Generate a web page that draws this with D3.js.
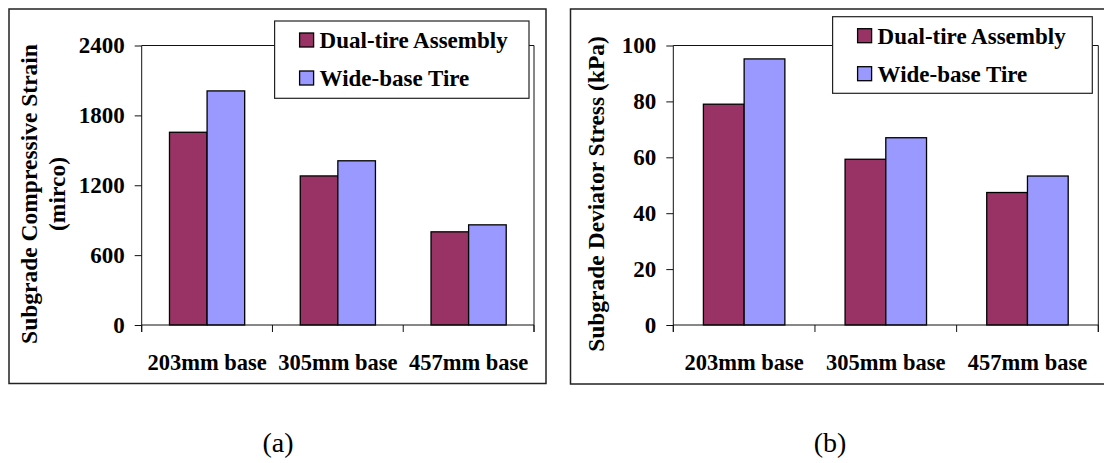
<!DOCTYPE html>
<html>
<head>
<meta charset="utf-8">
<title>Subgrade response</title>
<style>
body { margin: 0; background: #fff; }
svg { display: block; }
text { font-family: 'Liberation Serif', 'DejaVu Serif', serif; fill: #000; }
.bold { font-weight: bold; }
.panel { fill: none; stroke: #222; stroke-width: 1.5px; }
.frame { fill: none; stroke: #111; stroke-width: 1px; }
.bar { stroke: #000; stroke-width: 1.3px; }
.legend-box { fill: #fff; stroke: #222; stroke-width: 1.2px; }
.axis path, .axis line { stroke: #111; stroke-width: 1px; }
</style>
</head>
<body>
<script src="https://cdn.jsdelivr.net/npm/d3@7/dist/d3.min.js"></script>
<svg id="chart" width="1104" height="463"></svg>
<script>
const categories = ['203mm base', '305mm base', '457mm base'];
const seriesNames = ['Dual-tire Assembly', 'Wide-base Tire'];
const seriesColors = ['#993366', '#9999FF'];

// (a) subgrade compressive strain
const strainDual = [1655, 1280, 800];
const strainWide = [2010, 1410, 860];
const strainTicks = [0, 600, 1200, 1800, 2400];

// (b) subgrade deviator stress, kPa
const stressDual = [79, 59.3, 47.4];
const stressWide = [95.2, 67, 53.3];
const stressTicks = [0, 20, 40, 60, 80, 100];

const serif = "'Liberation Serif', 'DejaVu Serif', serif";
const svg = d3.select('#chart');

function drawPanel(opt){
    svg.append('rect').attr('class', 'panel')
        .attr('x', opt.box[0]).attr('y', opt.box[1])
        .attr('width', opt.box[2]).attr('height', opt.box[3]);

    const y = d3.scaleLinear().domain([0, opt.max]).range([325, 45.5]);
    const x0 = d3.scaleBand().domain(categories)
        .range([opt.left, opt.right])
        .paddingInner(0.425).paddingOuter(0.2125);
    const x1 = d3.scaleBand().domain(seriesNames).range([0, x0.bandwidth()]);

    // plot frame (top and right)
    svg.append('path').attr('class', 'frame')
        .attr('d', `M${opt.left},${y(opt.max)}H${opt.right}V${y(0) + 7}`);

    const rows = categories.map((c, i) => ({cat: c, values: [opt.dual[i], opt.wide[i]]}));

    const groups = svg.append('g').selectAll('g').data(rows).join('g')
        .attr('transform', d => `translate(${x0(d.cat)},0)`);

    groups.selectAll('rect')
        .data(d => d.values.map((v, k) => ({name: seriesNames[k], value: v, color: seriesColors[k]})))
        .join('rect')
        .attr('class', 'bar')
        .attr('x', d => x1(d.name))
        .attr('width', x1.bandwidth())
        .attr('y', d => y(d.value))
        .attr('height', d => y(0) - y(d.value))
        .attr('fill', d => d.color);

    // y axis
    const yAxis = svg.append('g').attr('class', 'axis')
        .attr('transform', `translate(${opt.left},0)`)
        .call(d3.axisLeft(y).tickValues(opt.ticks).tickFormat(d3.format('d'))
            .tickSize(7).tickSizeOuter(0).tickPadding(opt.tickPad));
    yAxis.select('.domain').remove();
    yAxis.append('line').attr('x1', 0).attr('x2', 0).attr('y1', y(opt.max)).attr('y2', y(0) + 7);
    yAxis.attr('font-family', null).attr('font-size', null);
    yAxis.selectAll('text')
        .style('font-family', serif)
        .style('font-weight', 'bold')
        .style('font-size', '23px')
        .attr('fill', '#000');

    // x axis: baseline plus ticks at category boundaries
    const xg = svg.append('g').attr('class', 'axis');
    xg.append('line').attr('x1', opt.left).attr('x2', opt.right).attr('y1', y(0)).attr('y2', y(0));
    const step = x0.step();
    d3.range(categories.length + 1).forEach(i => {
        const xx = opt.left + i * step;
        xg.append('line').attr('x1', xx).attr('x2', xx).attr('y1', y(0)).attr('y2', y(0) + 7);
    });
    xg.selectAll('text.cat').data(categories).join('text')
        .attr('class', 'cat bold')
        .attr('x', d => x0(d) + x0.bandwidth() / 2)
        .attr('y', 370)
        .attr('text-anchor', 'middle')
        .style('font-size', '22.5px')
        .text(d => d);

    // y title
    opt.title.forEach(t => {
        svg.append('text').attr('class', 'bold')
            .attr('transform', `translate(${t.x},194) rotate(-90)`)
            .attr('text-anchor', 'middle')
            .style('font-size', '23.5px')
            .text(t.text);
    });

    // legend
    const lg = svg.append('g');
    lg.append('rect').attr('class', 'legend-box')
        .attr('x', opt.legend[0]).attr('y', opt.legend[1])
        .attr('width', opt.legend[2]).attr('height', opt.legend[3]);
    seriesNames.forEach((name, k) => {
        const base = opt.legend[1] + 27 + k * 38;
        lg.append('rect')
            .attr('x', opt.legend[0] + 25).attr('y', base - 15)
            .attr('width', 14).attr('height', 14)
            .attr('fill', seriesColors[k]).attr('stroke', '#000').attr('stroke-width', 1.3);
        lg.append('text').attr('class', 'bold')
            .attr('x', opt.legend[0] + 45).attr('y', base)
            .style('font-size', '23px')
            .text(name);
    });

    svg.append('text')
        .attr('x', opt.caption).attr('y', 452)
        .attr('text-anchor', 'middle')
        .style('font-size', '28px')
        .text(opt.captionText);
}

drawPanel({
    box: [9, 9, 537, 374.5],
    left: 141.7, right: 534,
    max: 2400, ticks: strainTicks, tickPad: 10,
    dual: strainDual, wide: strainWide,
    title: [{x: 37, text: 'Subgrade Compressive Strain'}, {x: 64.5, text: '(mirco)'}],
    legend: [274.6, 21, 254.4, 77.3],
    caption: 278, captionText: '(a)'
});

drawPanel({
    box: [570.5, 9, 545, 375],
    left: 673.3, right: 1098.3,
    max: 100, ticks: stressTicks, tickPad: 10,
    dual: stressDual, wide: stressWide,
    title: [{x: 604, text: 'Subgrade Deviator Stress (kPa)'}],
    legend: [832.6, 16.7, 259.7, 76.6],
    caption: 830, captionText: '(b)'
});
</script>
</body>
</html>
